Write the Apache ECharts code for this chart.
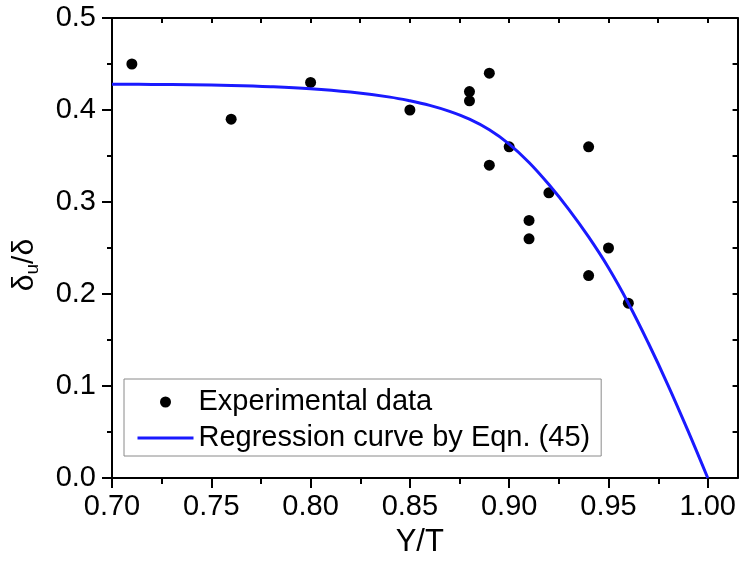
<!DOCTYPE html>
<html>
<head>
<meta charset="utf-8">
<script src="https://cdn.jsdelivr.net/npm/echarts@6/dist/echarts.min.js"></script>
<style>
  html, body { margin: 0; padding: 0; background: #fff; }
  #chart { width: 739px; height: 565px; }
</style>
</head>
<body>
<div id="chart"></div>
<script>
// Measured points
const expX = [0.71, 0.76, 0.80, 0.85, 0.88, 0.88, 0.89, 0.89, 0.90, 0.91, 0.91, 0.92, 0.94, 0.94, 0.95, 0.96];
const expY = [0.45, 0.39, 0.43, 0.40, 0.42, 0.41, 0.44, 0.34, 0.36, 0.28, 0.26, 0.31, 0.36, 0.22, 0.25, 0.19];

// Regression curve, Eqn. (45)
const fitX = [0.70, 0.72, 0.74, 0.76, 0.78, 0.80, 0.82, 0.84, 0.85, 0.86, 0.87, 0.88, 0.89, 0.90, 0.91, 0.92, 0.93, 0.94, 0.95, 0.96, 0.97, 0.98, 0.99, 1.00];
const fitY = [0.428, 0.4278, 0.4274, 0.4267, 0.4254, 0.4232, 0.4195, 0.414, 0.410, 0.405, 0.3985, 0.390, 0.3785, 0.363, 0.343, 0.319, 0.292, 0.262, 0.2285, 0.190, 0.147, 0.1008, 0.0515, 0.000];

// Tick positions
const xMajorTicks = [0.70, 0.75, 0.80, 0.85, 0.90, 0.95, 1.00];
const xMinorTicks = [0.725, 0.775, 0.825, 0.875, 0.925, 0.975];
const xTopTicks = [0.725, 0.75, 0.775, 0.80, 0.825, 0.85, 0.875, 0.90, 0.925, 0.95, 0.975, 1.00];

const FONT = "'Liberation Sans', Arial, Helvetica, sans-serif";
const X_MIN = 0.70, X_MAX = 1.015;
const Y_MIN = 0, Y_MAX = 0.5;
const CURVE_BLUE = '#1a1aff';

const gridRect = { left: 112, right: 1, top: 18, bottom: 87 };
const black = '#000';

const option = {
  animation: false,
  backgroundColor: '#fff',
  grid: [Object.assign({}, gridRect), Object.assign({}, gridRect)],
  legend: {
    orient: 'vertical',
    left: 124,
    top: 379,
    padding: [8, 11, 3, 12],
    itemGap: 6,
    itemWidth: 56,
    itemHeight: 11,
    borderColor: '#8a8a8a',
    borderWidth: 1,
    backgroundColor: '#fff',
    textStyle: { fontFamily: FONT, fontSize: 29, color: black, lineHeight: 30 },
    data: [
      { name: 'Experimental data', itemStyle: { color: black, opacity: 1 } },
      { name: 'Regression curve by Eqn. (45)', itemStyle: { opacity: 0 }, lineStyle: { color: CURVE_BLUE, width: 3, opacity: 1 } }
    ]
  },
  xAxis: [
    {
      gridIndex: 0, type: 'value', position: 'bottom', min: X_MIN, max: X_MAX,
      axisLine: { show: true, onZero: false, lineStyle: { color: black, width: 2 } },
      axisTick: { show: true, length: 10, customValues: xMajorTicks, lineStyle: { color: black, width: 2 } },
      axisLabel: { customValues: xMajorTicks, formatter: v => v.toFixed(2), fontFamily: FONT, fontSize: 29, color: black, margin: 14 },
      splitLine: { show: false },
      name: 'Y/T', nameLocation: 'middle', nameGap: 49,
      nameTextStyle: { fontFamily: FONT, fontSize: 31, color: black, padding: [0, 10, 0, 0] }
    },
    {
      gridIndex: 0, type: 'value', position: 'top', min: X_MIN, max: X_MAX,
      axisLine: { show: true, onZero: false, lineStyle: { color: black, width: 2 } },
      axisTick: { show: true, inside: true, length: 5, customValues: xTopTicks, lineStyle: { color: black, width: 2 } },
      axisLabel: { show: false },
      splitLine: { show: false }
    },
    {
      gridIndex: 1, type: 'value', position: 'bottom', min: X_MIN, max: X_MAX,
      axisLine: { show: false, onZero: false },
      axisTick: { show: true, length: 6, customValues: xMinorTicks, lineStyle: { color: black, width: 2 } },
      axisLabel: { show: false },
      splitLine: { show: false }
    }
  ],
  yAxis: [
    {
      gridIndex: 0, type: 'value', position: 'left', min: Y_MIN, max: Y_MAX, interval: 0.1,
      axisLine: { show: true, onZero: false, lineStyle: { color: black, width: 2 } },
      axisTick: { show: true, length: 10, lineStyle: { color: black, width: 2 } },
      minorTick: { show: true, splitNumber: 2, length: 5, lineStyle: { color: black, width: 2 } },
      axisLabel: { formatter: v => v.toFixed(1), fontFamily: FONT, fontSize: 29, color: black, margin: 16 },
      splitLine: { show: false },
      name: '{a|δ}{b|u}{a|/δ}', nameLocation: 'middle', nameGap: 70, nameRotate: 90,
      nameTextStyle: {
        color: black,
        padding: [0, 34, 0, 0],
        rich: {
          a: { fontFamily: FONT, fontSize: 30, color: black, lineHeight: 34 },
          b: { fontFamily: FONT, fontSize: 19, color: black, lineHeight: 18, verticalAlign: 'bottom' }
        }
      }
    },
    {
      gridIndex: 0, type: 'value', position: 'right', min: Y_MIN, max: Y_MAX, interval: 0.05,
      axisLine: { show: true, onZero: false, lineStyle: { color: black, width: 2 } },
      axisTick: { show: true, inside: true, length: 5, lineStyle: { color: black, width: 2 } },
      axisLabel: { show: false },
      splitLine: { show: false }
    },
    {
      gridIndex: 1, type: 'value', min: Y_MIN, max: Y_MAX, show: false
    }
  ],
  series: [
    {
      name: 'Experimental data',
      type: 'scatter',
      xAxisIndex: 0, yAxisIndex: 0,
      symbol: 'circle',
      symbolSize: 11,
      itemStyle: { color: black, opacity: 1 },
      data: expX.map((x, i) => [x, expY[i]])
    },
    {
      name: 'Regression curve by Eqn. (45)',
      type: 'line',
      xAxisIndex: 0, yAxisIndex: 0,
      smooth: 0.4,
      symbol: 'none',
      lineStyle: { color: CURVE_BLUE, width: 3 },
      itemStyle: { color: CURVE_BLUE },
      data: fitX.map((x, i) => [x, fitY[i]])
    }
  ]
};

const chart = echarts.init(document.getElementById('chart'), null, { renderer: 'canvas' });
chart.setOption(option);
</script>
</body>
</html>
